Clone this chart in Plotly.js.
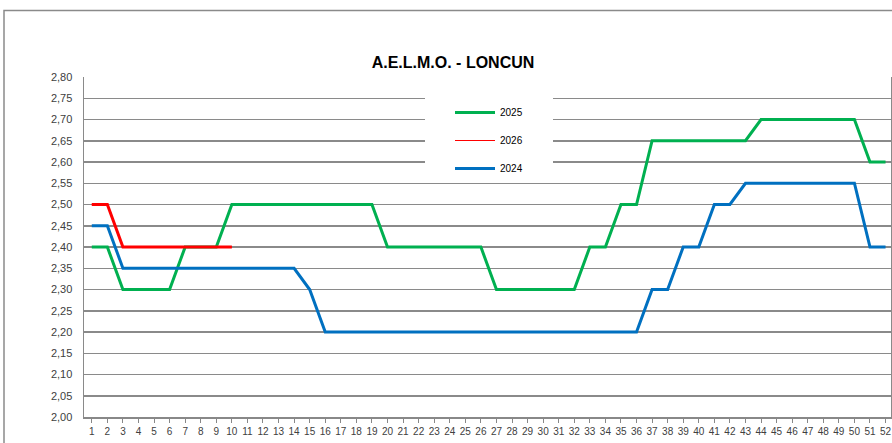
<!DOCTYPE html>
<html>
<head>
<meta charset="utf-8">
<script src="https://cdn.plot.ly/plotly-3.0.1.min.js"></script>
<style>
html,body{margin:0;padding:0;background:#fff;}
#chart{width:892px;height:443px;}
</style>
</head>
<body>
<div id="chart"></div>
<script>
const weeks = [1,2,3,4,5,6,7,8,9,10,11,12,13,14,15,16,17,18,19,20,21,22,23,24,25,26,
  27,28,29,30,31,32,33,34,35,36,37,38,39,40,41,42,43,44,45,46,47,48,49,50,51,52];
const weekLabels = weeks.map(String);

const series2025 = [2.40,2.40,2.30,2.30,2.30,2.30,2.40,2.40,2.40,2.50,
  2.50,2.50,2.50,2.50,2.50,2.50,2.50,2.50,2.50,
  2.40,2.40,2.40,2.40,2.40,2.40,2.40,
  2.30,2.30,2.30,2.30,2.30,2.30,
  2.40,2.40,2.50,2.50,
  2.65,2.65,2.65,2.65,2.65,2.65,2.65,
  2.70,2.70,2.70,2.70,2.70,2.70,2.70,
  2.60,2.60];

const series2026 = [2.50,2.50,2.40,2.40,2.40,2.40,2.40,2.40,2.40,2.40];

const series2024 = [2.45,2.45,
  2.35,2.35,2.35,2.35,2.35,2.35,2.35,2.35,2.35,2.35,2.35,2.35,
  2.30,
  2.20,2.20,2.20,2.20,2.20,2.20,2.20,2.20,2.20,2.20,2.20,2.20,2.20,2.20,2.20,2.20,2.20,2.20,2.20,2.20,2.20,
  2.30,2.30,2.40,2.40,2.50,2.50,
  2.55,2.55,2.55,2.55,2.55,2.55,2.55,2.55,
  2.40,2.40];

const GREEN = '#00B050', RED = '#FF0000', BLUE = '#0070C0';

const traces = [
  {x: weeks, y: series2025, name: '2025', type: 'scatter', mode: 'lines',
   line: {color: GREEN, width: 3}, legendgroup: 'a'},
  {x: weeks.slice(0, series2026.length), y: series2026, name: '2026', type: 'scatter', mode: 'lines',
   line: {color: RED, width: 1}, legendgroup: 'b'},
  {x: weeks.slice(0, series2026.length), y: series2026, name: '2026', type: 'scatter', mode: 'lines',
   line: {color: RED, width: 3}, showlegend: false, legendgroup: 'b'},
  {x: weeks, y: series2024, name: '2024', type: 'scatter', mode: 'lines',
   line: {color: BLUE, width: 3}, legendgroup: 'c'}
];

const L = 84, R = 891, T = 77, B = 417;
const pw = R - L, ph = B - T;
const px2x = p => (p - L) / pw;
const px2y = p => (B - p) / ph;

const layout = {
  width: 892, height: 443,
  margin: {l: L, r: 892 - R, t: T, b: 443 - B, pad: 0},
  paper_bgcolor: '#ffffff', plot_bgcolor: '#ffffff',
  separators: ',.',
  font: {family: 'Liberation Sans, Arial, sans-serif', size: 11, color: '#404040'},
  title: {text: 'A.E.L.M.O. - LONCUN', x: 453/892, xref: 'container', xanchor: 'center',
    y: 1 - 62/443, yref: 'container', yanchor: 'middle',
    font: {family: 'Liberation Sans, Arial, sans-serif', size: 16, color: '#000000', weight: 'bold'}},
  xaxis: {
    type: 'linear', range: [0.5, 52.35], tickmode: 'array', tickvals: weeks, ticktext: weekLabels,
    ticks: 'outside', ticklen: 4, tickcolor: '#888888', tickwidth: 1,
    showgrid: false, zeroline: false, showline: true, linecolor: '#888888', linewidth: 1.5,
    tickfont: {family: 'Liberation Sans, Arial, sans-serif', size: 10, color: '#404040'},
    automargin: false, fixedrange: true
  },
  yaxis: {
    range: [2.0, 2.8], dtick: 0.05, tick0: 2.0, tickformat: '.2f',
    showgrid: true, gridcolor: '#8a8a8a', gridwidth: 1.5, zeroline: false,
    showline: true, linecolor: '#8a8a8a', linewidth: 1.5, mirror: true,
    ticks: '', ticklabelstandoff: 8,
    tickfont: {family: 'Liberation Sans, Arial, sans-serif', size: 11, color: '#404040'},
    automargin: false, fixedrange: true
  },
  showlegend: true,
  legend: {
    x: px2x(450), y: px2y(98), xanchor: 'left', yanchor: 'top',
    bgcolor: 'rgba(0,0,0,0)', borderwidth: 0,
    traceorder: 'grouped', tracegroupgap: 9, itemwidth: 40,
    font: {family: 'Liberation Sans, Arial, sans-serif', size: 10, color: '#000000'}
  },
  shapes: [
    {type: 'rect', xref: 'paper', yref: 'paper', layer: 'above',
     x0: px2x(425), x1: px2x(553), y0: px2y(182), y1: px2y(85),
     fillcolor: '#ffffff', line: {width: 0}},
    {type: 'rect', xref: 'paper', yref: 'paper', layer: 'below',
     x0: px2x(4), x1: px2x(900), y0: px2y(10.5), y1: px2y(460),
     fillcolor: 'rgba(0,0,0,0)', line: {color: '#8a8a8a', width: 1.5}}
  ]
};

Plotly.newPlot('chart', traces, layout, {staticPlot: true, displayModeBar: false});
</script>
</body>
</html>
